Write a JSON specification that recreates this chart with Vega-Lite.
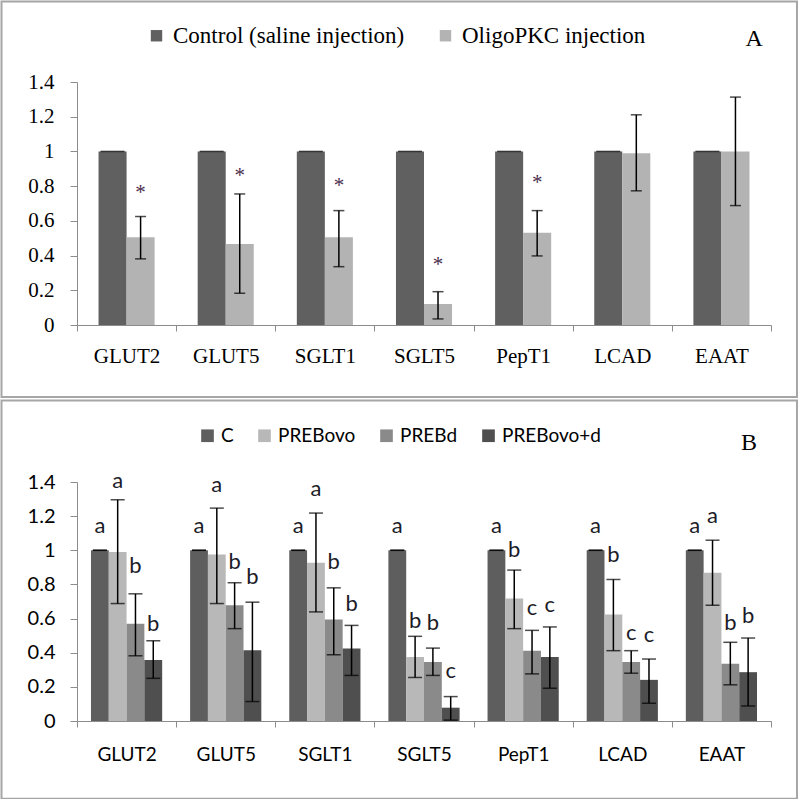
{
  "$schema": "https://vega.github.io/schema/vega-lite/v6.json",
  "padding": 0,
  "spacing": 0,
  "background": "white",
  "config": {
    "view": {"stroke": null},
    "axisY": {"tickCount": 8, "labelOverlap": false, "format": "~g", "grid": false, "domainColor": "#8c8c8c", "tickColor": "#8c8c8c", "tickSize": 7, "labelFont": "Liberation Serif", "labelFontSize": 21, "labelColor": "black", "labelPadding": 16}
  },
  "resolve": {"scale": {"x": "independent", "y": "independent", "xOffset": "independent", "color": "independent"}, "legend": {"color": "independent"}},
  "datasets": {
    "a": [
      {"gene": "GLUT2", "group": "Control (saline injection)", "mean": 1, "lo": 1, "hi": 1},
      {"gene": "GLUT2", "group": "OligoPKC injection", "mean": 0.506, "lo": 0.381, "hi": 0.625, "sig": 0.726},
      {"gene": "GLUT5", "group": "Control (saline injection)", "mean": 1, "lo": 1, "hi": 1},
      {"gene": "GLUT5", "group": "OligoPKC injection", "mean": 0.467, "lo": 0.183, "hi": 0.755, "sig": 0.825},
      {"gene": "SGLT1", "group": "Control (saline injection)", "mean": 1, "lo": 1, "hi": 1},
      {"gene": "SGLT1", "group": "OligoPKC injection", "mean": 0.506, "lo": 0.336, "hi": 0.659, "sig": 0.766},
      {"gene": "SGLT5", "group": "Control (saline injection)", "mean": 1, "lo": 1, "hi": 1},
      {"gene": "SGLT5", "group": "OligoPKC injection", "mean": 0.121, "lo": 0.035, "hi": 0.192, "sig": 0.311},
      {"gene": "PepT1", "group": "Control (saline injection)", "mean": 1, "lo": 1, "hi": 1},
      {"gene": "PepT1", "group": "OligoPKC injection", "mean": 0.532, "lo": 0.398, "hi": 0.659, "sig": 0.783},
      {"gene": "LCAD", "group": "Control (saline injection)", "mean": 1, "lo": 1, "hi": 1},
      {"gene": "LCAD", "group": "OligoPKC injection", "mean": 0.99, "lo": 0.773, "hi": 1.211},
      {"gene": "EAAT", "group": "Control (saline injection)", "mean": 1, "lo": 1, "hi": 1},
      {"gene": "EAAT", "group": "OligoPKC injection", "mean": 1.0, "lo": 0.688, "hi": 1.313}
    ],
    "b": [
      {"gene": "GLUT2", "group": "C", "mean": 1, "lo": 1, "hi": 1, "label": "a", "labelY": 1.104},
      {"gene": "GLUT2", "group": "PREBovo", "mean": 0.99, "lo": 0.688, "hi": 1.296, "label": "a", "labelY": 1.363},
      {"gene": "GLUT2", "group": "PREBd", "mean": 0.569, "lo": 0.382, "hi": 0.745, "label": "b", "labelY": 0.869},
      {"gene": "GLUT2", "group": "PREBovo+d", "mean": 0.357, "lo": 0.25, "hi": 0.47, "label": "b", "labelY": 0.525},
      {"gene": "GLUT5", "group": "C", "mean": 1, "lo": 1, "hi": 1, "label": "a", "labelY": 1.104},
      {"gene": "GLUT5", "group": "PREBovo", "mean": 0.976, "lo": 0.688, "hi": 1.247, "label": "a", "labelY": 1.343},
      {"gene": "GLUT5", "group": "PREBd", "mean": 0.678, "lo": 0.541, "hi": 0.81, "label": "b", "labelY": 0.888},
      {"gene": "GLUT5", "group": "PREBovo+d", "mean": 0.414, "lo": 0.114, "hi": 0.696, "label": "b", "labelY": 0.8},
      {"gene": "SGLT1", "group": "C", "mean": 1, "lo": 1, "hi": 1, "label": "a", "labelY": 1.104},
      {"gene": "SGLT1", "group": "PREBovo", "mean": 0.927, "lo": 0.639, "hi": 1.218, "label": "a", "labelY": 1.316},
      {"gene": "SGLT1", "group": "PREBd", "mean": 0.594, "lo": 0.388, "hi": 0.78, "label": "b", "labelY": 0.888},
      {"gene": "SGLT1", "group": "PREBovo+d", "mean": 0.424, "lo": 0.267, "hi": 0.56, "label": "b", "labelY": 0.643},
      {"gene": "SGLT5", "group": "C", "mean": 1, "lo": 1, "hi": 1, "label": "a", "labelY": 1.104},
      {"gene": "SGLT5", "group": "PREBovo", "mean": 0.375, "lo": 0.255, "hi": 0.496, "label": "b", "labelY": 0.545},
      {"gene": "SGLT5", "group": "PREBd", "mean": 0.345, "lo": 0.267, "hi": 0.427, "label": "b", "labelY": 0.535},
      {"gene": "SGLT5", "group": "PREBovo+d", "mean": 0.078, "lo": 0.005, "hi": 0.143, "label": "c", "labelY": 0.251},
      {"gene": "PepT1", "group": "C", "mean": 1, "lo": 1, "hi": 1, "label": "a", "labelY": 1.104},
      {"gene": "PepT1", "group": "PREBovo", "mean": 0.718, "lo": 0.541, "hi": 0.884, "label": "b", "labelY": 0.961},
      {"gene": "PepT1", "group": "PREBd", "mean": 0.412, "lo": 0.276, "hi": 0.531, "label": "c", "labelY": 0.618},
      {"gene": "PepT1", "group": "PREBovo+d", "mean": 0.375, "lo": 0.192, "hi": 0.551, "label": "c", "labelY": 0.637},
      {"gene": "LCAD", "group": "C", "mean": 1, "lo": 1, "hi": 1, "label": "a", "labelY": 1.104},
      {"gene": "LCAD", "group": "PREBovo", "mean": 0.624, "lo": 0.412, "hi": 0.829, "label": "b", "labelY": 0.933},
      {"gene": "LCAD", "group": "PREBd", "mean": 0.345, "lo": 0.28, "hi": 0.412, "label": "c", "labelY": 0.476},
      {"gene": "LCAD", "group": "PREBovo+d", "mean": 0.241, "lo": 0.104, "hi": 0.363, "label": "c", "labelY": 0.461},
      {"gene": "EAAT", "group": "C", "mean": 1, "lo": 1, "hi": 1, "label": "a", "labelY": 1.104},
      {"gene": "EAAT", "group": "PREBovo", "mean": 0.869, "lo": 0.678, "hi": 1.059, "label": "a", "labelY": 1.159},
      {"gene": "EAAT", "group": "PREBd", "mean": 0.335, "lo": 0.212, "hi": 0.461, "label": "b", "labelY": 0.535},
      {"gene": "EAAT", "group": "PREBovo+d", "mean": 0.286, "lo": 0.088, "hi": 0.486, "label": "b", "labelY": 0.575}
    ]
  },
  "vconcat": [
    {
      "width": 694,
      "height": 243,
      "data": {"name": "a"},
      "layer": [
        {
          "mark": {"type": "bar"},
          "encoding": {
            "x": {"field": "gene", "type": "nominal", "title": null,
              "scale": {"domain": ["GLUT2", "GLUT5", "SGLT1", "SGLT5", "PepT1", "LCAD", "EAAT"], "paddingInner": 0, "paddingOuter": 0},
              "axis": {"title": null, "labelAngle": 0, "tickBand": "extent", "domainColor": "#8c8c8c", "tickColor": "#8c8c8c", "tickSize": 6, "labelFont": "Liberation Serif", "labelFontSize": 21, "labelColor": "black", "labelPadding": 14}},
            "xOffset": {"field": "group", "type": "nominal", "scale": {"domain": ["Control (saline injection)", "OligoPKC injection"], "paddingInner": 0, "paddingOuter": 0.768}},
            "y": {"field": "mean", "type": "quantitative", "title": null,
              "scale": {"domain": [0, 1.4], "nice": false, "zero": true},
              "axis": {"title": null, "format": "~g", "grid": false, "labelFont": "Liberation Serif", "labelFontSize": 21, "labelColor": "black", "labelPadding": 16}},
            "color": {"field": "group", "type": "nominal",
              "scale": {"domain": ["Control (saline injection)", "OligoPKC injection"], "range": ["#606060", "#b3b3b3"]},
              "legend": {"title": null, "orient": "none", "legendX": 68, "legendY": -58, "direction": "horizontal", "symbolType": "square", "symbolSize": 130, "symbolStrokeWidth": 0, "symbolOpacity": 1, "labelFont": "Liberation Serif", "labelFontSize": 23, "labelLimit": 0, "labelColor": "black", "columnPadding": 29, "labelOffset": 5, "padding": 0}}
          }
        },
        {
          "mark": {"type": "rule", "color": "black", "strokeWidth": 1.5},
          "encoding": {
            "x": {"field": "gene", "type": "nominal", "title": null},
            "xOffset": {"field": "group", "type": "nominal"},
            "y": {"field": "lo", "type": "quantitative", "title": null},
            "y2": {"field": "hi"}
          }
        },
        {
          "transform": [{"filter": "datum.group != 'Control (saline injection)'"}],
          "mark": {"type": "tick", "color": "black", "thickness": 1.5, "size": 11},
          "encoding": {
            "x": {"field": "gene", "type": "nominal", "title": null},
            "xOffset": {"field": "group", "type": "nominal"},
            "y": {"field": "lo", "type": "quantitative", "title": null}
          }
        },
        {
          "transform": [{"filter": "datum.group != 'Control (saline injection)'"}],
          "mark": {"type": "tick", "color": "black", "thickness": 1.5, "size": 11},
          "encoding": {
            "x": {"field": "gene", "type": "nominal", "title": null},
            "xOffset": {"field": "group", "type": "nominal"},
            "y": {"field": "hi", "type": "quantitative", "title": null}
          }
        },
        {
          "transform": [{"filter": "datum.group == 'Control (saline injection)'"}],
          "mark": {"type": "tick", "color": "black", "thickness": 1.5, "size": 24},
          "encoding": {
            "x": {"field": "gene", "type": "nominal", "title": null},
            "xOffset": {"field": "group", "type": "nominal"},
            "y": {"field": "hi", "type": "quantitative", "title": null}
          }
        },
        {
          "transform": [{"filter": "datum.sig != null"}],
          "mark": {"type": "text", "font": "Liberation Serif", "fontSize": 21, "color": "#4a2d4c", "align": "center", "baseline": "alphabetic", "text": "*"},
          "encoding": {
            "x": {"field": "gene", "type": "nominal", "title": null},
            "xOffset": {"field": "group", "type": "nominal"},
            "y": {"field": "sig", "type": "quantitative", "title": null}
          }
        },
        {
          "data": {"values": [{"panel": "A"}]},
          "mark": {"type": "text", "font": "Liberation Serif", "fontSize": 24, "color": "black", "align": "center", "baseline": "alphabetic"},
          "encoding": {
            "x": {"datum": "EAAT", "bandPosition": 0.83},
            "y": {"datum": 1.605},
            "text": {"field": "panel"}
          }
        },
        {
          "data": {"values": [{"panel": "A"}]},
          "mark": {"type": "rect", "fill": "transparent", "stroke": "#a6a6a6", "strokeWidth": 2},
          "encoding": {
            "x": {"datum": "GLUT2", "bandPosition": -0.7615},
            "x2": {"datum": "EAAT", "bandPosition": 1.262},
            "y": {"datum": 1.864},
            "y2": {"datum": -0.415}
          }
        }
      ]
    },
    {
      "width": 694,
      "height": 239,
      "data": {"name": "b"},
      "layer": [
        {
          "mark": {"type": "bar"},
          "encoding": {
            "x": {"field": "gene", "type": "nominal", "title": null,
              "scale": {"domain": ["GLUT2", "GLUT5", "SGLT1", "SGLT5", "PepT1", "LCAD", "EAAT"], "paddingInner": 0, "paddingOuter": 0},
              "axis": {"title": null, "labelAngle": 0, "tickBand": "extent", "domainColor": "#8c8c8c", "tickColor": "#8c8c8c", "tickSize": 6, "labelFont": "Lato", "labelFontSize": 19, "labelColor": "black", "labelPadding": 18}},
            "xOffset": {"field": "group", "type": "nominal", "scale": {"domain": ["C", "PREBovo", "PREBd", "PREBovo+d"], "paddingInner": 0, "paddingOuter": 0.785}},
            "y": {"field": "mean", "type": "quantitative", "title": null,
              "scale": {"domain": [0, 1.4], "nice": false, "zero": true},
              "axis": {"title": null, "format": "~g", "grid": false, "labelFont": "Lato", "labelFontSize": 20, "labelColor": "black", "labelPadding": 15}},
            "color": {"field": "group", "type": "nominal",
              "scale": {"domain": ["C", "PREBovo", "PREBd", "PREBovo+d"], "range": ["#5e5e5e", "#b8b8b8", "#8a8a8a", "#4f4f4f"]},
              "legend": {"title": null, "orient": "none", "legendX": 121, "legendY": -56, "direction": "horizontal", "symbolType": "square", "symbolSize": 160, "symbolStrokeWidth": 0, "symbolOpacity": 1, "labelFont": "Lato", "labelFontSize": 19, "labelLimit": 0, "labelColor": "black", "columnPadding": 21, "labelOffset": 4, "padding": 0}}
          }
        },
        {
          "mark": {"type": "rule", "color": "black", "strokeWidth": 1.5},
          "encoding": {
            "x": {"field": "gene", "type": "nominal", "title": null},
            "xOffset": {"field": "group", "type": "nominal"},
            "y": {"field": "lo", "type": "quantitative", "title": null},
            "y2": {"field": "hi"}
          }
        },
        {
          "mark": {"type": "tick", "color": "black", "thickness": 1.5, "size": 14},
          "encoding": {
            "x": {"field": "gene", "type": "nominal", "title": null},
            "xOffset": {"field": "group", "type": "nominal"},
            "y": {"field": "lo", "type": "quantitative", "title": null}
          }
        },
        {
          "mark": {"type": "tick", "color": "black", "thickness": 1.5, "size": 14},
          "encoding": {
            "x": {"field": "gene", "type": "nominal", "title": null},
            "xOffset": {"field": "group", "type": "nominal"},
            "y": {"field": "hi", "type": "quantitative", "title": null}
          }
        },
        {
          "mark": {"type": "text", "font": "Lato", "fontSize": 22, "color": "#1c1c28", "align": "center", "baseline": "alphabetic"},
          "encoding": {
            "x": {"field": "gene", "type": "nominal", "title": null},
            "xOffset": {"field": "group", "type": "nominal"},
            "y": {"field": "labelY", "type": "quantitative", "title": null},
            "text": {"field": "label"}
          }
        },
        {
          "data": {"values": [{"panel": "B"}]},
          "mark": {"type": "text", "font": "Liberation Serif", "fontSize": 24, "color": "black", "align": "center", "baseline": "alphabetic"},
          "encoding": {
            "x": {"datum": "EAAT", "bandPosition": 0.778},
            "y": {"datum": 1.588},
            "text": {"field": "panel"}
          }
        },
        {
          "data": {"values": [{"panel": "B"}]},
          "mark": {"type": "rect", "fill": "transparent", "stroke": "#a6a6a6", "strokeWidth": 2},
          "encoding": {
            "x": {"datum": "GLUT2", "bandPosition": -0.7615},
            "x2": {"datum": "EAAT", "bandPosition": 1.262},
            "y": {"datum": 1.878},
            "y2": {"datum": -0.455}
          }
        }
      ]
    }
  ]
}
